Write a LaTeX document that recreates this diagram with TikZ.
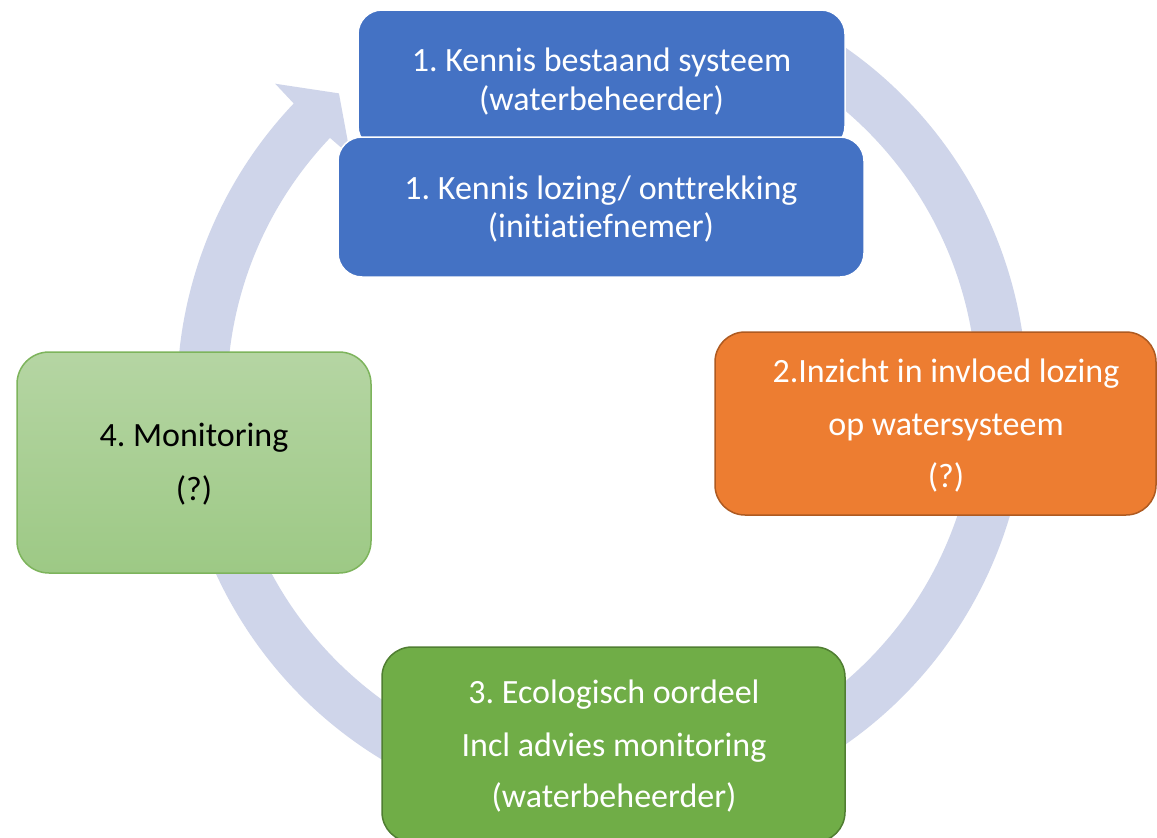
\documentclass[tikz,border=0pt]{standalone}
\usepackage{fontspec}
\setmainfont{Carlito}[Ligatures=NoCommon]
\usetikzlibrary{calc}
\frenchspacing

\definecolor{ringfill}{HTML}{CFD5EA}
\definecolor{stepblue}{HTML}{4472C4}
\definecolor{steporange}{HTML}{ED7D31}
\definecolor{steporangeline}{HTML}{AE5A21}
\definecolor{stepgreen}{HTML}{70AD47}
\definecolor{stepgreenline}{HTML}{507E32}
\definecolor{palegreentop}{HTML}{B5D5A3}
\definecolor{palegreenbottom}{HTML}{9DC985}
\definecolor{palegreenline}{HTML}{7DB45C}

\begin{document}
\begin{tikzpicture}[x=1pt,y=1pt,
  stepbox/.style={rectangle, rounded corners=24pt, line width=1.5pt,
    inner sep=0pt, outer sep=0pt, anchor=north west},
  steptext/.style={anchor=base, inner sep=0pt,
    font=\fontsize{34}{40}\selectfont, text=white},
]
\clip (0,0) rectangle (1157,-838);
\fill[white] (0,0) rectangle (1157,-838);

% circular arrow running clockwise behind the steps
\coordinate (C) at (602,-396);
\fill[ringfill]
  ([shift={(62:425)}]C)
  arc[start angle=62, end angle=-223.5, radius=425]
  -- ([shift={(136.3:452)}]C)
  -- ([shift={(131:401)}]C)
  -- ([shift={(136.3:348)}]C)
  -- ([shift={(136.5:375)}]C)
  arc[start angle=-223.5, end angle=62, radius=375]
  -- cycle;

% step 1: two stacked blue boxes
\node[stepbox, fill=stepblue, draw=white, minimum width=487pt, minimum height=140pt]
  (sys) at (358,-10) {};
\node[stepbox, fill=stepblue, draw=white, minimum width=526pt, minimum height=140pt]
  (loz) at (338,-137) {};

% step 2
\node[stepbox, fill=steporange, draw=steporangeline, rounded corners=30pt,
  minimum width=441pt, minimum height=183pt] (insight) at (715,-332) {};

% step 4
\node[stepbox, top color=palegreentop, bottom color=palegreenbottom,
  draw=palegreenline, rounded corners=32pt,
  minimum width=354pt, minimum height=221pt] (monitor) at (17,-352) {};

% step 3
\node[stepbox, fill=stepgreen, draw=stepgreenline, rounded corners=30pt,
  minimum width=463pt, minimum height=195pt] (judge) at (382,-647) {};

% texts
\node[steptext] (sys1) at (601.5,-71) {1. Kennis bestaand systeem};
\node[steptext] (sys2) at (601.5,-110) {(waterbeheerder)};
\node[steptext] (loz1) at (601,-199) {1. Kennis lozing/ onttrekking};
\node[steptext] (loz2) at (601,-237) {(initiatiefnemer)};

\node[steptext] (ins1) at (946,-382) {2.Inzicht in invloed lozing};
\node[steptext] (ins2) at (946,-435) {op watersysteem};
\node[steptext] (ins3) at (946,-487) {(?)};

\node[steptext, text=black] (mon1) at (194,-446) {4. Monitoring};
\node[steptext, text=black] (mon2) at (194,-500) {(?)};

\node[steptext] (jud1) at (614,-703) {3. Ecologisch oordeel};
\node[steptext] (jud2) at (614,-756) {Incl advies monitoring};
\node[steptext] (jud3) at (614,-807) {(waterbeheerder)};
\end{tikzpicture}
\end{document}
